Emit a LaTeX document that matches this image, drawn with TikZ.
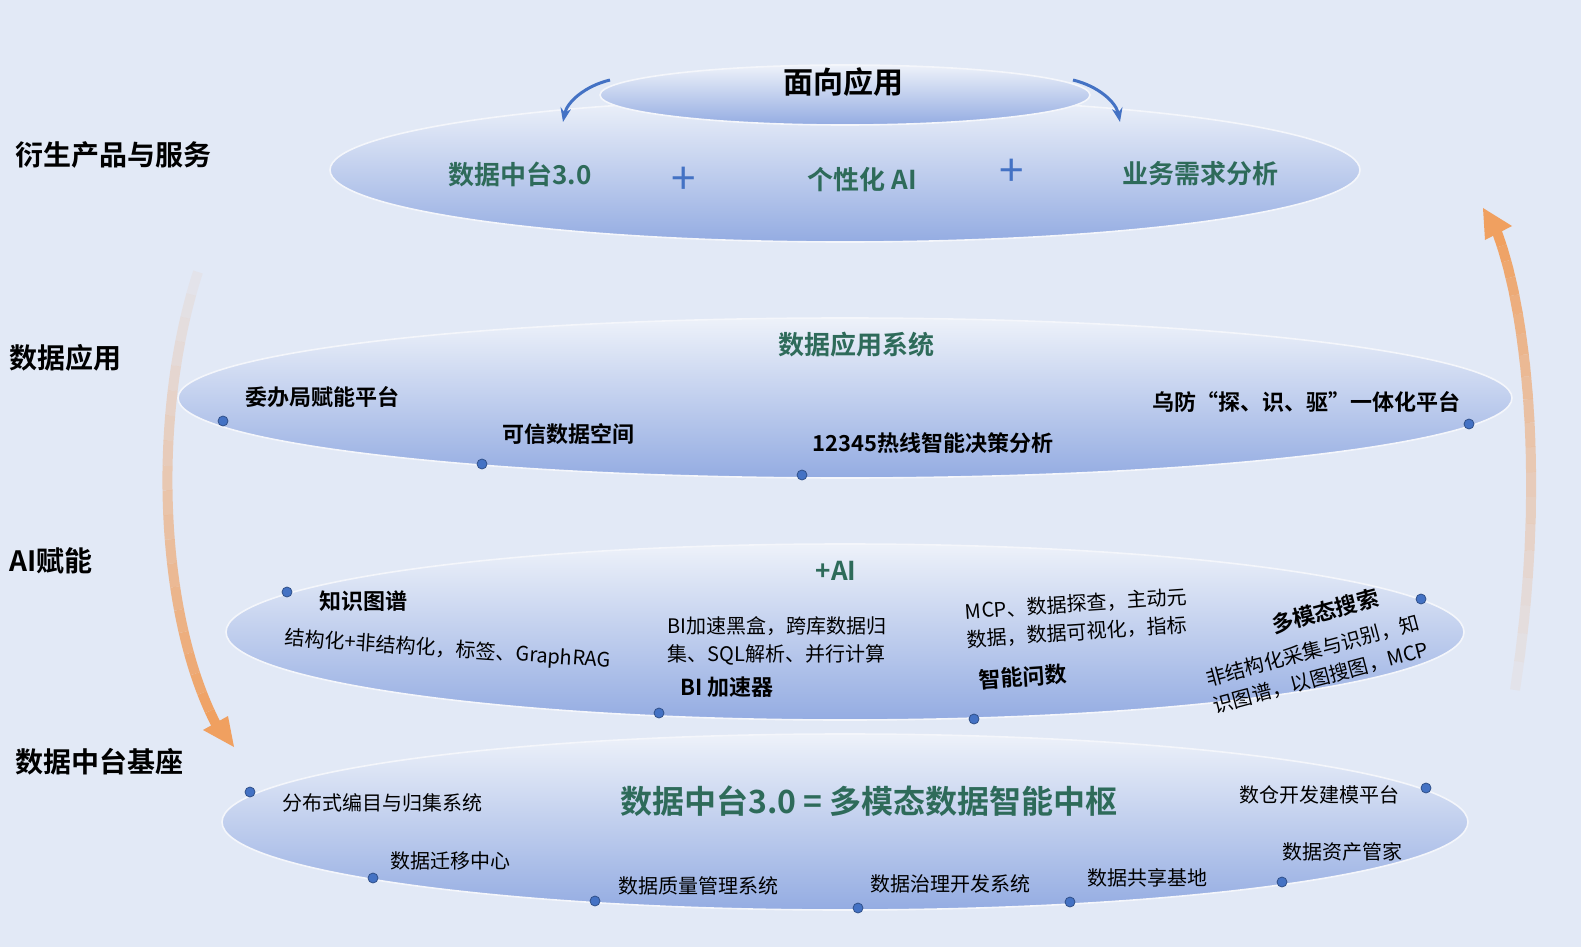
\documentclass[tikz,border=0pt]{standalone}
\usepackage{fontspec}
\setmainfont{Noto Sans CJK SC}
\newfontfamily\cjkb{Noto Sans CJK SC Bold}
\usetikzlibrary{arrows.meta}
\definecolor{bg}{HTML}{E2E9F6}
\definecolor{teal}{HTML}{2E6B5A}
\definecolor{dotc}{HTML}{4472C4}
\definecolor{arr}{HTML}{F0A060}
\tikzset{
 dot/.style={circle, fill=dotc, draw=dotc!70!black, line width=0.4pt, inner sep=0pt, minimum size=5pt},
 side/.style={font=\cjkb\fontsize{14}{16}\selectfont, anchor=west},
 teall/.style={font=\cjkb\fontsize{13}{15}\selectfont, text=teal},
 lab/.style={font=\cjkb\fontsize{11}{13}\selectfont},
 small/.style={font=\fontsize{10}{14}\selectfont, align=left},
 plus/.style={text=dotc, font=\fontsize{22}{22}\selectfont},
}
\begin{document}
\begin{tikzpicture}[x=0.5pt,y=-0.5pt]
\fill[bg] (0,0) rectangle (1581,947);
\useasboundingbox (0,0) rectangle (1581,947);
\def\lay#1#2#3#4{\shade[top color=bg!60!white, bottom color={rgb,255:red,148;green,172;blue,226}] (#1,#2) ellipse [x radius=#3, y radius=#4];
 \draw[white!60!bg, line width=0.8pt] (#1,#2) ellipse [x radius=#3, y radius=#4];}
% layers
\lay{845}{822}{623}{88}
\lay{845}{632}{619}{88}
\lay{845}{398}{667}{80}
\lay{845}{170}{515}{72}
\lay{845}{95}{245}{30}
% side labels
\node[side] (s1) at (8,155) {衍生产品与服务};
\node[side] (s2) at (2,358) {数据应用};
\node[side] (s3) at (2,561) {AI赋能};
\node[side] (s4) at (8,762) {数据中台基座};
% top
\node[font=\cjkb\fontsize{15}{17}\selectfont] (top) at (843,82) {面向应用};
\node[teall] (t1) at (520,174) {数据中台3.0};
\node[plus] (p1) at (684,181) {+};
\node[teall] (t2) at (862,180) {个性化 AI};
\node[plus] (p2) at (1012,173) {+};
\node[teall] (t3) at (1200,174) {业务需求分析};
\coordinate (la) at (610,80); \coordinate (lb) at (563,122);
\coordinate (ra) at (1073,80); \coordinate (rb) at (1120,122);
\draw[dotc, line width=1.5pt, -{Stealth[length=7pt]}] (la) .. controls (585,86) and (567,102) .. (lb);
\draw[dotc, line width=1.5pt, -{Stealth[length=7pt]}] (ra) .. controls (1098,86) and (1116,102) .. (rb);
% data app
\node[teall] (a0) at (856,345) {数据应用系统};
\node[lab] (a1) at (322,397) {委办局赋能平台};
\node[lab] (a2) at (568,434) {可信数据空间};
\node[lab] (a3) at (933,443) {12345热线智能决策分析};
\node[lab] (a4) at (1306,402) {乌防“探、识、驱”一体化平台};
\node[dot] at (223,421) {}; \node[dot] at (482,464) {}; \node[dot] at (802,475) {}; \node[dot] at (1469,424) {};
% AI
\node[teall] (b0) at (836,571) {+AI};
\node[lab] (b1) at (363,601) {知识图谱};
\node[small, rotate=-4] (b1d) at (448,650) {结构化+非结构化，标签、GraphRAG};
\node[small] (b2d) at (777,641) {BI加速黑盒，跨库数据归\\集、SQL解析、并行计算};
\node[lab] (b2) at (727,687) {BI 加速器};
\node[small, rotate=4] (b3d) at (1077,618) {MCP、数据探查，主动元\\数据，数据可视化，指标};
\node[lab, rotate=4] (b3) at (1023,677) {智能问数};
\node[lab, rotate=15] (b4) at (1325,611) {多模态搜索};
\node[small, rotate=15] (b4d) at (1317,664) {非结构化采集与识别，知\\识图谱，以图搜图，MCP};
\node[dot] at (287,592) {}; \node[dot] at (659,713) {}; \node[dot] at (974,719) {}; \node[dot] at (1421,599) {};
% base
\node[font=\cjkb\fontsize{16}{18}\selectfont, text=teal] (c0) at (869,801) {数据中台3.0 = 多模态数据智能中枢};
\node[small] (c1) at (382,803) {分布式编目与归集系统};
\node[small] (c2) at (450,861) {数据迁移中心};
\node[small] (c3) at (698,886) {数据质量管理系统};
\node[small] (c4) at (950,884) {数据治理开发系统};
\node[small] (c5) at (1147,878) {数据共享基地};
\node[small] (c6) at (1342,852) {数据资产管家};
\node[small] (c7) at (1319,795) {数仓开发建模平台};
\node[dot] at (250,792) {}; \node[dot] at (373,878) {}; \node[dot] at (595,901) {}; \node[dot] at (858,908) {};
\node[dot] at (1070,902) {}; \node[dot] at (1282,882) {}; \node[dot] at (1426,788) {};
% big arrows
\coordinate (L1) at (234,747);
\foreach \t/\o in {0/0.08,0.05/0.12,0.1/0.16,0.15/0.2,0.2/0.25,0.25/0.3,0.3/0.35,0.35/0.4,0.4/0.45,0.45/0.5,0.5/0.55,0.55/0.6,0.6/0.65,0.65/0.7,0.7/0.75,0.75/0.8,0.8/0.85,0.85/0.9,0.9/0.95,0.95/1}{
 \draw[arr, opacity=\o, line width=5pt, line cap=butt] plot[domain=\t:{\t+0.05}, samples=5, variable=\s]
  ({(1-\s)^3*198+3*(1-\s)^2*\s*150+3*(1-\s)*\s^2*160+\s^3*218},{(1-\s)^3*272+3*(1-\s)^2*\s*420+3*(1-\s)*\s^2*620+\s^3*728});}
\fill[arr] (L1) -- (203,730) -- (228,716) -- cycle;
\foreach \t/\o in {0/0.08,0.05/0.12,0.1/0.16,0.15/0.2,0.2/0.25,0.25/0.3,0.3/0.35,0.35/0.4,0.4/0.45,0.45/0.5,0.5/0.55,0.55/0.6,0.6/0.65,0.65/0.7,0.7/0.75,0.75/0.8,0.8/0.85,0.85/0.9,0.9/0.95,0.95/1}{
 \draw[arr, opacity=\o, line width=5pt, line cap=butt] plot[domain=\t:{\t+0.05}, samples=5, variable=\s]
  ({(1-\s)^3*1515+3*(1-\s)^2*\s*1545+3*(1-\s)*\s^2*1530+\s^3*1497},{(1-\s)^3*690+3*(1-\s)^2*\s*500+3*(1-\s)*\s^2*320+\s^3*232});}
\fill[arr] (1483,208) -- (1512,226) -- (1485,240) -- cycle;
\end{tikzpicture}
\end{document}
